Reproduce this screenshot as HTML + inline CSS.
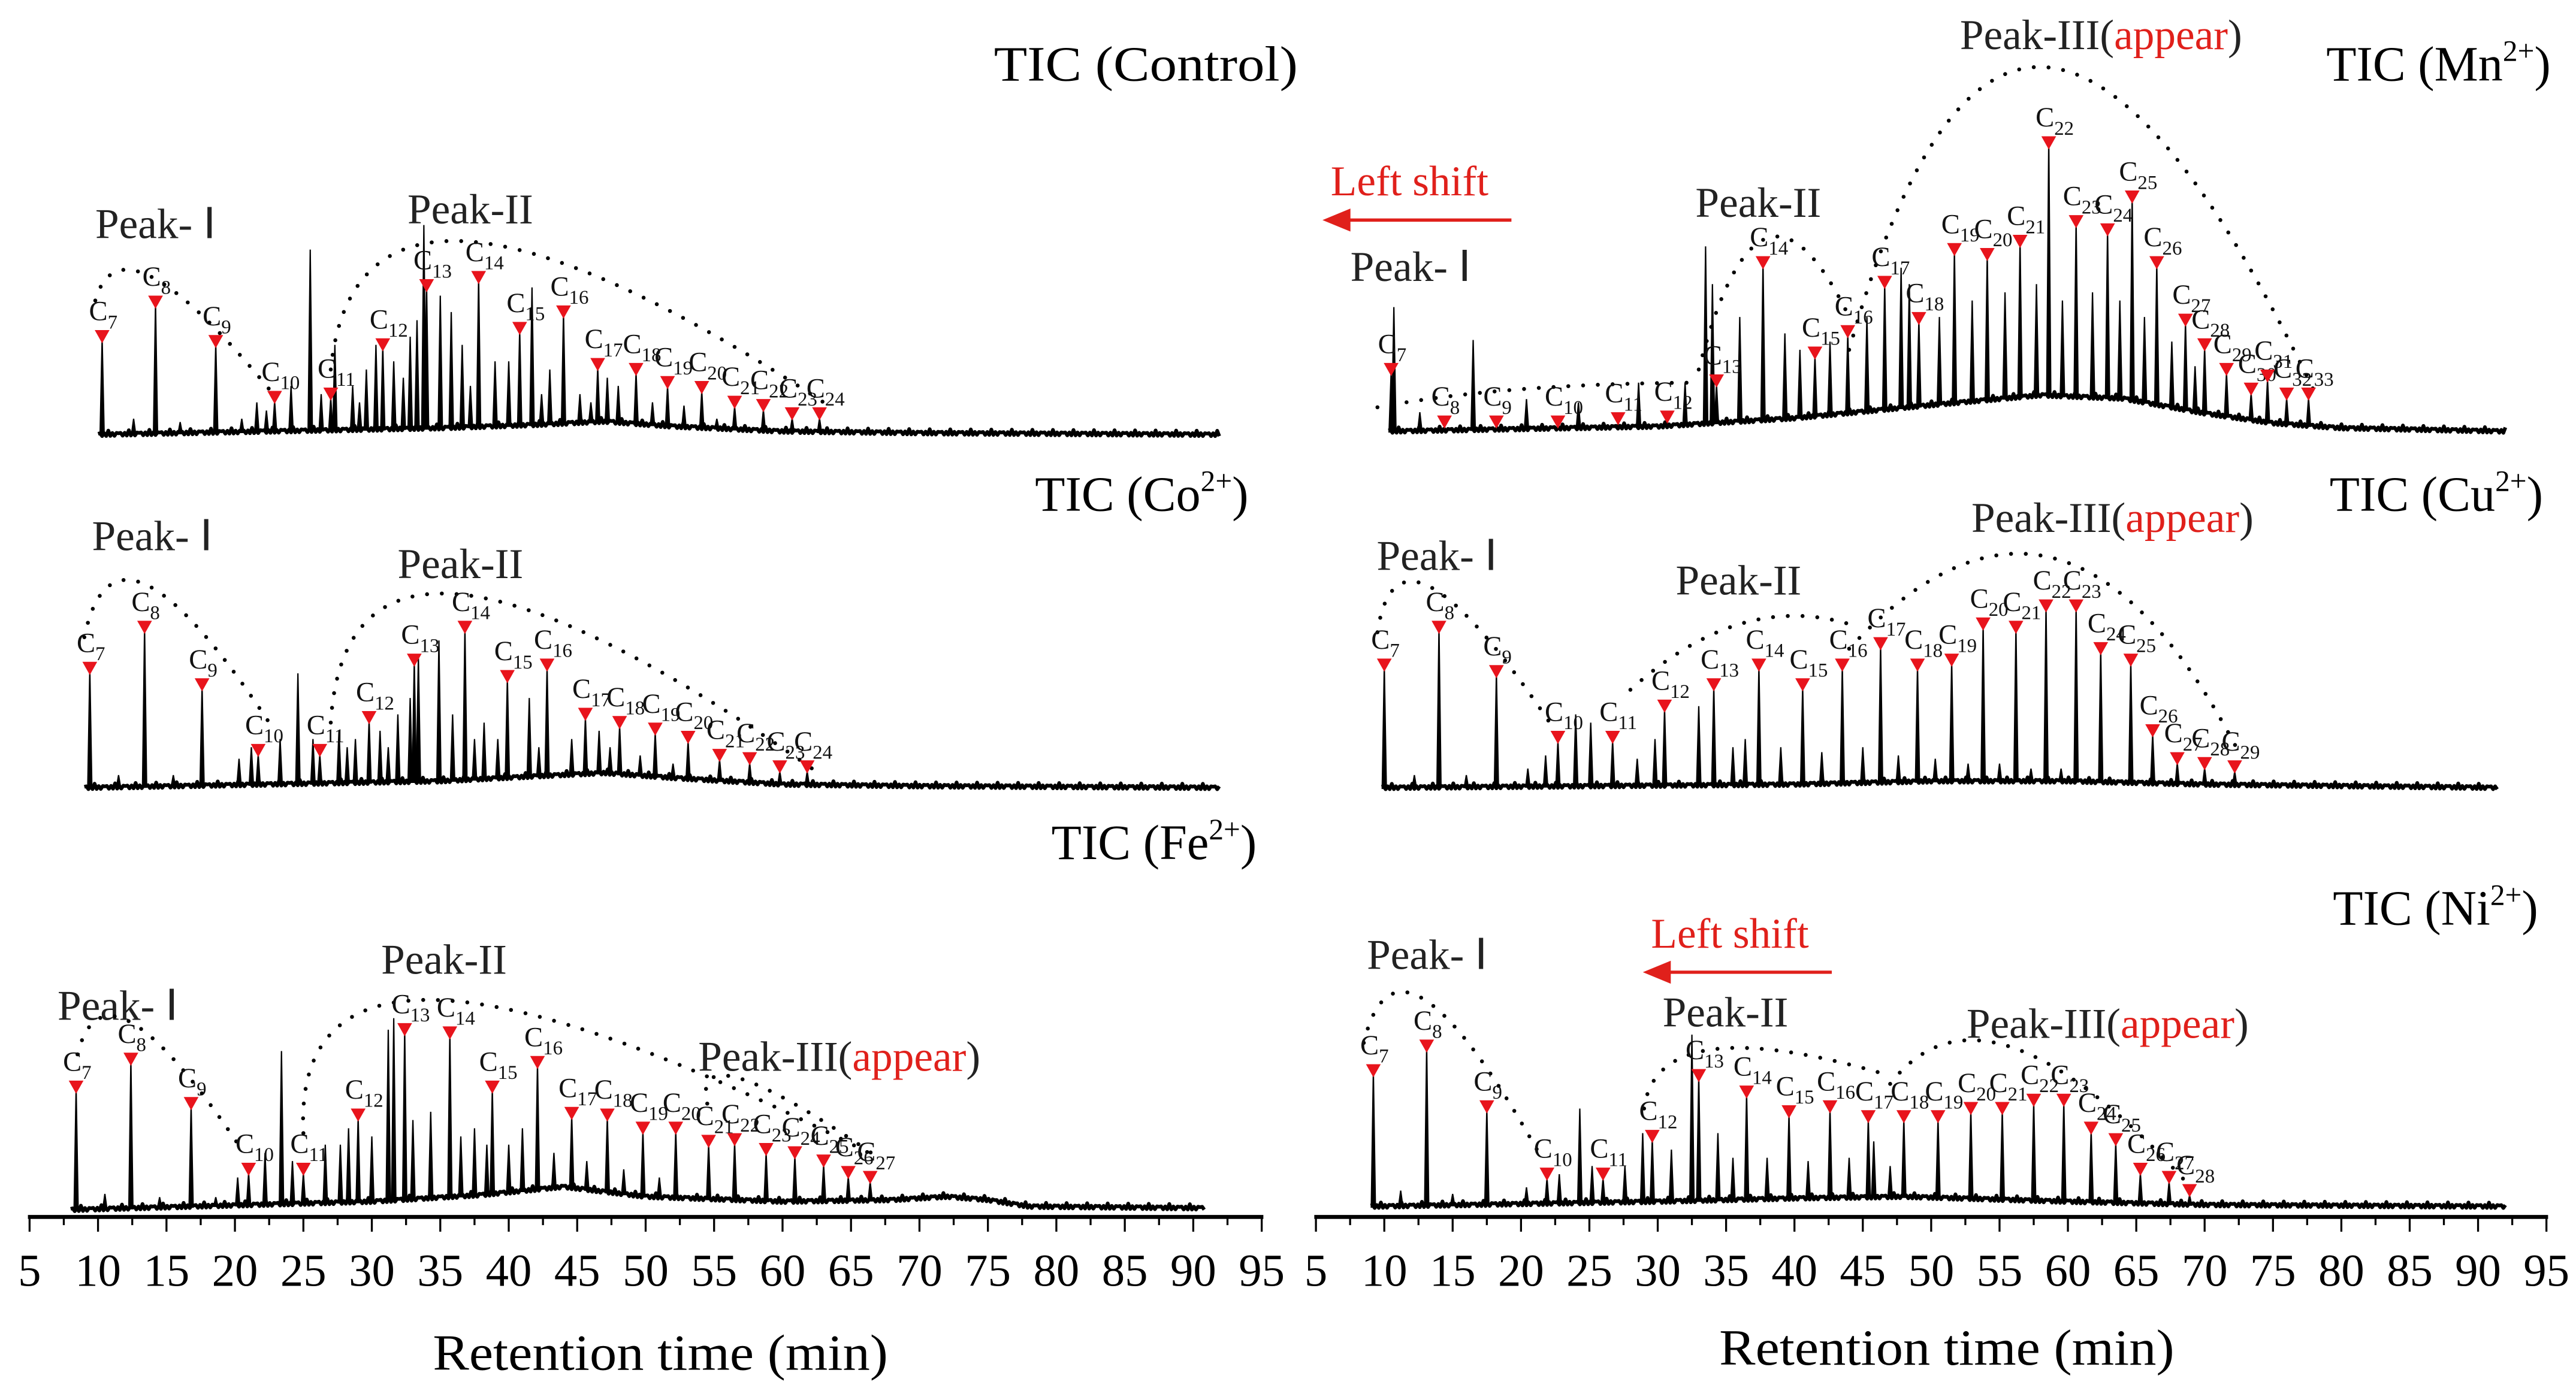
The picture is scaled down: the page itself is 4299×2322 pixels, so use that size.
<!DOCTYPE html>
<html><head><meta charset="utf-8"><style>
html,body{margin:0;padding:0;background:#fff;}
svg{display:block;}
text{font-family:"Liberation Serif",serif;}
</style></head><body>
<svg id="chart" xmlns="http://www.w3.org/2000/svg" width="4299" height="2322" viewBox="0 0 1568 847" preserveAspectRatio="none">
<rect width="1568" height="847" fill="#fff"/>
<g id="static" font-family="Liberation Serif, serif">
<text x="605" y="49" font-size="30" textLength="185" lengthAdjust="spacingAndGlyphs">TIC (Control)</text>
<text x="630" y="311" font-size="30">TIC (Co<tspan font-size="18" dy="-12">2+</tspan><tspan dy="12">)</tspan></text>
<text x="640" y="523" font-size="30">TIC (Fe<tspan font-size="18" dy="-12">2+</tspan><tspan dy="12">)</tspan></text>
<text x="1416" y="49" font-size="30">TIC (Mn<tspan font-size="18" dy="-12">2+</tspan><tspan dy="12">)</tspan></text>
<text x="1418" y="311" font-size="30">TIC (Cu<tspan font-size="18" dy="-12">2+</tspan><tspan dy="12">)</tspan></text>
<text x="1420" y="563" font-size="30">TIC (Ni<tspan font-size="18" dy="-12">2+</tspan><tspan dy="12">)</tspan></text>

<text x="58" y="145" font-size="26" fill="#222">Peak- Ⅰ</text>
<text x="248" y="136" font-size="26" fill="#222">Peak-II</text>
<text x="56" y="335" font-size="26" fill="#222">Peak- Ⅰ</text>
<text x="242" y="352" font-size="26" fill="#222">Peak-II</text>
<text x="35" y="621" font-size="26" fill="#222">Peak- Ⅰ</text>
<text x="232" y="593" font-size="26" fill="#222">Peak-II</text>
<text x="425" y="652" font-size="26" fill="#222">Peak-III(<tspan fill="#e0201b">appear</tspan>)</text>

<text x="1193" y="30" font-size="26" fill="#222">Peak-III(<tspan fill="#e0201b">appear</tspan>)</text>
<text x="810" y="119" font-size="26" fill="#e0201b">Left shift</text>
<line x1="920" y1="134" x2="818" y2="134" stroke="#e0201b" stroke-width="2"/>
<polygon points="805,134 822,127 822,141" fill="#e0201b"/>
<text x="822" y="171" font-size="26" fill="#222">Peak- Ⅰ</text>
<text x="1032" y="132" font-size="26" fill="#222">Peak-II</text>

<text x="1200" y="324" font-size="26" fill="#222">Peak-III(<tspan fill="#e0201b">appear</tspan>)</text>
<text x="838" y="347" font-size="26" fill="#222">Peak- Ⅰ</text>
<text x="1020" y="362" font-size="26" fill="#222">Peak-II</text>

<text x="1005" y="577" font-size="26" fill="#e0201b">Left shift</text>
<line x1="1115" y1="592" x2="1013" y2="592" stroke="#e0201b" stroke-width="2"/>
<polygon points="1000,592 1017,585 1017,599" fill="#e0201b"/>
<text x="832" y="590" font-size="26" fill="#222">Peak- Ⅰ</text>
<text x="1012" y="625" font-size="26" fill="#222">Peak-II</text>
<text x="1197" y="632" font-size="26" fill="#222">Peak-III(<tspan fill="#e0201b">appear</tspan>)</text>

<text x="402" y="834" font-size="31" text-anchor="middle" textLength="277" lengthAdjust="spacingAndGlyphs">Retention time (min)</text>
<text x="1185" y="831" font-size="31" text-anchor="middle" textLength="277" lengthAdjust="spacingAndGlyphs">Retention time (min)</text>
</g>
<g id="dyn"></g>
</svg>
<script>
// ---- axis tick labels ----
const tickValues = [5,10,15,20,25,30,35,40,45,50,55,60,65,70,75,80,85,90,95];

// ---- Control ----
const ctrlCarbons = [7,8,9,10,11,12,13,14,15,16,17,18,19,20,21,22,23,24];
const ctrlTimes = [10.3,14.2,18.6,22.9,27.0,30.8,34.0,37.8,40.8,44.0,46.5,49.3,51.6,54.1,56.5,58.6,60.7,62.7];
const ctrlHeights = [57,78,54,20,22,52,88,93,62,72,40,37,29,26,17,15,10,10];
const ctrlOtherTimes = [12.6,16.0,20.5,21.6,22.3,24.1,25.5,26.3,27.3,28.6,29.1,29.6,30.3,31.6,32.3,32.8,33.3,33.8,35.0,35.8,36.6,37.2,39.0,40.0,41.7,42.4,43.0,45.2,46.0,47.2,48.0,50.5,52.8,55.2];
const ctrlOtherHeights = [10,8,10,20,15,30,113,25,55,30,20,40,55,45,35,60,70,128,85,75,55,30,45,45,90,25,40,25,20,35,30,20,18,10];
const ctrlHumpTimes = [10,35,42,47,52,60,70,92];
const ctrlHumpHeights = [0,4,6,8,5,2,1,0];

// ---- Co ----
const coCarbons = [7,8,9,10,11,12,13,14,15,16,17,18,19,20,21,22,23,24];
const coTimes = [9.4,13.4,17.6,21.7,26.2,29.8,33.1,36.8,39.9,42.8,45.6,48.1,50.7,53.1,55.4,57.6,59.8,61.8];
const coHeights = [70,95,60,20,20,40,75,95,65,72,42,37,33,28,17,15,10,10];
const coOtherTimes = [11.5,15.5,20.3,21.2,23.3,24.6,25.7,27.6,28.2,28.8,30.6,31.2,31.9,32.8,33.4,34.9,35.9,37.5,38.2,39.2,41.5,42.2,44.6,46.6,47.4,49.6,52.0];
const coOtherHeights = [8,8,18,25,30,70,30,35,25,30,35,25,45,55,80,90,45,30,40,30,55,25,30,35,25,20,15];
const coHumpTimes = [9,35,42,47,52,60,70,92];
const coHumpHeights = [0,4,7,9,6,2,1,0];

// ---- Fe ----
const feCarbons = [7,8,9,10,11,12,13,14,15,16,17,18,19,20,21,22,23,24,25,26,27];
const feTimes = [8.4,12.4,16.8,21.0,25.0,29.0,32.4,35.7,38.8,42.1,44.6,47.2,49.8,52.2,54.6,56.5,58.8,60.9,63.0,64.8,66.4];
const feHeights = [72,89,62,22,22,55,107,105,72,87,56,55,47,47,39,40,34,32,27,20,17];
const feOtherTimes = [10.5,14.5,18.6,20.2,22.2,23.4,24.2,26.6,27.7,28.3,30.0,31.2,31.6,33.0,34.3,36.5,37.5,38.4,40.0,41.0,43.3,45.7,48.4,51.0];
const feOtherHeights = [10,8,8,20,35,97,30,40,40,50,45,110,117,55,60,45,50,40,40,50,35,30,25,20];
const feHumpTimes = [8,30,38,44,50,60,68,72,75,78,90.8];
const feHumpHeights = [0,5,9,14,8,5,6,8,6,2,1];

// ---- Mn ----
const mnCarbons = [7,8,9,10,11,12,13,14,15,16,17,18,19,20,21,22,23,24,25,26,27,28,29,30,31,32,33];
const mnTimes = [10.5,14.4,18.2,22.7,27.1,30.7,34.3,37.7,41.5,43.9,46.6,49.1,51.7,54.1,56.5,58.6,60.6,62.9,64.7,66.5,68.6,70.0,71.6,73.4,74.6,76.0,77.6];
const mnHeights = [35,3,3,3,5,6,28,100,45,58,88,66,108,105,113,173,125,120,140,100,65,50,35,23,31,20,20];
const mnOtherTimes = [10.7,12.6,16.5,20.4,24.2,28.6,32.0,33.5,34.0,36.0,39.3,40.4,42.6,45.3,47.8,48.4,50.6,53.0,55.4,57.7,59.6,61.8,63.8,65.6,67.6,69.3];
const mnOtherHeights = [76,12,56,20,18,30,30,113,90,70,60,50,55,70,100,90,70,80,85,90,80,85,80,70,55,40];
const mnHumpTimes = [10.3,30,40,50,58,64,70,75,80,92];
const mnHumpHeights = [0,3,8,16,22,20,11,5,2,0];

// ---- Cu ----
const cuCarbons = [7,8,9,10,11,12,13,14,15,16,17,18,19,20,21,22,23,24,25,26,27,28,29];
const cuTimes = [10.0,14.0,18.2,22.7,26.7,30.5,34.1,37.4,40.6,43.5,46.3,49.0,51.5,53.8,56.2,58.4,60.6,62.4,64.6,66.2,68.0,70.0,72.2];
const cuHeights = [72,95,68,28,28,47,60,72,60,72,85,72,75,97,95,108,108,82,75,32,15,12,10];
const cuOtherTimes = [12.2,16.0,20.5,21.8,24.0,25.1,28.5,29.8,33.0,35.5,36.4,39.0,42.0,45.0,47.6,50.3,52.7,55.0,57.3,59.5];
const cuOtherHeights = [8,8,12,20,45,40,18,30,50,25,30,25,22,25,20,18,15,15,12,12];
const cuHumpTimes = [9.8,40,50,60,70,91.4];
const cuHumpHeights = [0,2,4,4,2,0];

// ---- Ni ----
const niCarbons = [7,8,9,10,11,12,13,14,15,16,17,18,19,20,21,22,23,24,25,26,27,28];
const niTimes = [9.2,13.1,17.5,21.9,26.0,29.6,33.0,36.5,39.6,42.6,45.4,48.0,50.5,52.9,55.2,57.5,59.7,61.7,63.5,65.3,67.4,68.9];
const niHeights = [80,95,58,17,17,40,77,67,55,58,52,52,52,57,57,62,62,45,38,20,15,7];
const niOtherTimes = [11.2,15.0,20.4,22.8,24.3,25.2,27.6,28.9,31.0,32.5,34.4,35.5,38.0,41.0,44.0,45.8,47.0];
const niOtherHeights = [10,8,12,20,60,25,25,45,35,105,45,30,30,28,30,40,25];
const niHumpTimes = [9,30,40,48,60,70,92];
const niHumpHeights = [0,3,5,6,3,1,0];

// ---- axis functions ----
function xLeft(t){ return 18 + (t - 5) * 750 / 90; }
function xRight(t){ return 801 + (t - 5) * 749 / 90; }

const NS = 'http://www.w3.org/2000/svg';
const dyn = document.getElementById('dyn');
function mk(tag, attrs, parent){
  const e = document.createElementNS(NS, tag);
  for (const k in attrs) e.setAttribute(k, attrs[k]);
  (parent || dyn).appendChild(e);
  return e;
}
function interp(ts, hs, t){
  if (t <= ts[0]) return hs[0];
  for (let i = 1; i < ts.length; i++){
    if (t <= ts[i]) return hs[i-1] + (hs[i]-hs[i-1]) * (t - ts[i-1]) / (ts[i]-ts[i-1]);
  }
  return hs[hs.length-1];
}

const panels = [
  {id:'control', X:xLeft, base:265, t0:10.0, t1:91.9, carbons:ctrlCarbons, times:ctrlTimes, heights:ctrlHeights, oT:ctrlOtherTimes, oH:ctrlOtherHeights, hT:ctrlHumpTimes, hH:ctrlHumpHeights,
    env:[[[9.8,82],[14,96],[22.8,25]],[[27,40],[37,118],[63,20]]]},
  {id:'co', X:xLeft, base:480, t0:9.0, t1:91.9, carbons:coCarbons, times:coTimes, heights:coHeights, oT:coOtherTimes, oH:coOtherHeights, hT:coHumpTimes, hH:coHumpHeights,
    env:[[[9,92],[13.5,124],[22.5,40]],[[27,40],[36.5,118],[62.5,10]]]},
  {id:'fe', X:xLeft, base:737, t0:8.0, t1:90.8, carbons:feCarbons, times:feTimes, heights:feHeights, oT:feOtherTimes, oH:feOtherHeights, hT:feHumpTimes, hH:feHumpHeights,
    env:[[[8.5,95],[12.5,114],[20.5,37]],[[25,47],[35,128],[67,32]],[[54.5,65],[57,80],[67,32]]]},
  {id:'mn', X:xRight, base:263, t0:10.3, t1:92.0, carbons:mnCarbons, times:mnTimes, heights:mnHeights, oT:mnOtherTimes, oH:mnOtherHeights, hT:mnHumpTimes, hH:mnHumpHeights,
    env:[[[9.5,15],[20,26],[33,30]],[[33,38],[38,118],[44,70]],[[44,50],[58.5,222],[78,25]]]},
  {id:'cu', X:xRight, base:480, t0:9.8, t1:91.4, carbons:cuCarbons, times:cuTimes, heights:cuHeights, oT:cuOtherTimes, oH:cuOtherHeights, hT:cuHumpTimes, hH:cuHumpHeights,
    env:[[[9.5,95],[13.5,122],[22.5,35]],[[28,60],[36,100],[44,100]],[[44,85],[59,140],[72.5,22]]]},
  {id:'ni', X:xRight, base:735, t0:9.0, t1:92.0, carbons:niCarbons, times:niTimes, heights:niHeights, oT:niOtherTimes, oH:niOtherHeights, hT:niHumpTimes, hH:niHumpHeights,
    env:[[[8.5,100],[13,126],[21.5,30]],[[29,60],[34,96],[47,80]],[[47,75],[56,97],[69,12]]]}
];

panels.forEach(p => {
  const g = mk('g', {});
  
  
  const Y = h => p.base - h;
  let d = '';
  const n = Math.round((p.t1 - p.t0) / 0.15);
  for (let i = 0; i <= n; i++){
    const t = p.t0 + (p.t1 - p.t0) * i / n;
    const h = interp(p.hT, p.hH, t) + ((i % 2) ? 1.2 : -0.6) + ((i % 5) === 0 ? 1.5 : 0);
    d += (i ? 'L' : 'M') + p.X(t).toFixed(2) + ',' + Y(h).toFixed(2);
  }
  const bl = mk('path', {d:d, fill:'none', stroke:'#000', 'stroke-width':'2.2', 'stroke-linejoin':'round'}, g);
  
  
  p.oT.forEach((t, i) => {
    const x = p.X(t), b = Y(interp(p.hT, p.hH, t));
    const pk = mk('polygon', {points:`${x-1.3},${b} ${x},${Y(p.oH[i])} ${x+1.3},${b}`, fill:'#000', stroke:'#000', 'stroke-width':'0.8'}, g);
    
    
  });
  p.env.forEach(seg => {
    const [a, c, e] = seg;
    const cx = 2 * p.X(c[0]) - 0.5 * (p.X(a[0]) + p.X(e[0]));
    const cy = 2 * Y(c[1]) - 0.5 * (Y(a[1]) + Y(e[1]));
    const ep = mk('path', {d:`M${p.X(a[0])},${Y(a[1])} Q${cx},${cy} ${p.X(e[0])},${Y(e[1])}`, fill:'none', stroke:'#000', 'stroke-width':'2.4', 'stroke-linecap':'round', 'stroke-dasharray':'0 9'}, g);
    
    
  });
  p.times.forEach((t, i) => {
    const x = p.X(t), b = Y(interp(p.hT, p.hH, t)), top = Y(p.heights[i]);
    const pk = mk('polygon', {points:`${x-1.2},${b} ${x},${top} ${x+1.2},${b}`, fill:'#000', stroke:'#000', 'stroke-width':'0.9'}, g);
    
    
    const tri = mk('polygon', {points:`${x-4.5},${top-7} ${x+4.5},${top-7} ${x},${top+1}`, fill:'#e8141c'}, g);
    
    
    const tx = mk('text', {x:x-8, y:top-13, 'font-size':'17', fill:'#111'}, g);
    
    
    tx.textContent = 'C';
    const sub = mk('tspan', {'font-size':'12', dy:'5'}, tx);
    sub.textContent = String(p.carbons[i]);
  });
});

[[xLeft, 'left'], [xRight, 'right']].forEach(([X, side]) => {
  const ax = mk('g', {});
  
  
  const al = mk('line', {x1:X(5)-1, y1:741, x2:X(95)+1, y2:741, stroke:'#000', 'stroke-width':'2.4'}, ax);
  
  
  for (let v = 5; v <= 95; v += 2.5){
    const major = (v % 5) === 0;
    const tk = mk('line', {x1:X(v), y1:741, x2:X(v), y2:741 + (major ? 9 : 5), stroke:'#000', 'stroke-width':'1.2'}, ax);
    
    
  }
  tickValues.forEach(v => {
    const tl = mk('text', {x:X(v), y:783, 'font-size':'28', 'text-anchor':'middle'}, ax);
    
    
    tl.textContent = String(v);
  });
});
</script>
</body></html>
